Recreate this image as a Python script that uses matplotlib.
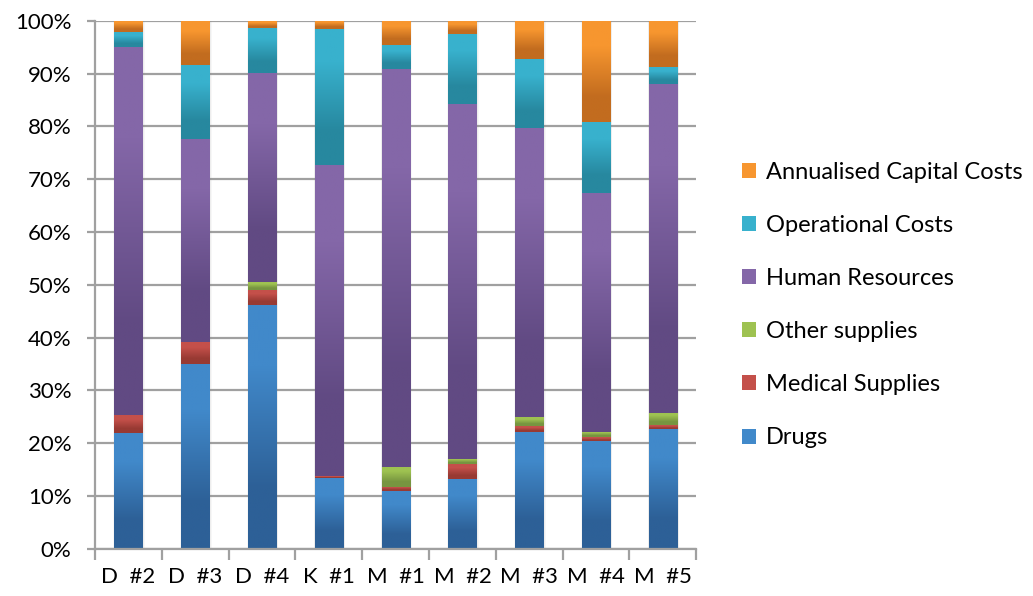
import numpy as np
import matplotlib
matplotlib.use("Agg")
import matplotlib.pyplot as plt
from matplotlib.colors import to_rgb
from matplotlib.patches import Patch

plt.rcParams["font.family"] = ["Lato", "DejaVu Sans"]

categories = ["D  #2", "D  #3", "D  #4", "K  #1", "M  #1", "M  #2", "M  #3", "M  #4", "M  #5"]

# shares in percent
drugs       = [21.9, 35.0, 46.2, 13.5, 11.0, 13.3, 22.2, 20.5, 22.8]
medical     = [3.4, 4.1, 2.8, 0.3, 0.8, 2.7, 1.0, 0.6, 0.7]
other       = [0.0, 0.0, 1.5, 0.0, 3.8, 1.1, 1.7, 1.0, 2.3]
human_res   = [69.8, 38.5, 39.6, 58.9, 75.3, 67.2, 54.9, 45.3, 62.3]
operational = [2.8, 14.0, 8.6, 25.8, 4.5, 13.3, 12.9, 13.5, 3.2]
capital     = [2.1, 8.4, 1.3, 1.6, 4.6, 2.4, 7.3, 19.1, 8.7]

series = [
    ("Drugs", drugs, "#4189ca", "#2d6097"),
    ("Medical Supplies", medical, "#c4504a", "#983a33"),
    ("Other supplies", other, "#9ec251", "#779540"),
    ("Human Resources", human_res, "#8467a8", "#614a83"),
    ("Operational Costs", operational, "#38b1cd", "#27889f"),
    ("Annualised Capital Costs", capital, "#f7962f", "#c26c1f"),
]

vals = np.array([s[1] for s in series], dtype=float)
pct = vals / vals.sum(axis=0) * 100

fig = plt.figure(figsize=(10.33, 5.96), dpi=100)
ax = fig.add_axes([0.092, 0.079, 0.582, 0.886])

x = np.arange(len(categories))
w = 0.42
grid_c = "#a0a0a0"

ax.set_yticks(np.arange(0, 101, 10))
ax.set_yticklabels([f"{v}%" for v in range(0, 101, 10)], fontsize=16)
ax.yaxis.grid(True, color=grid_c, lw=1.6, zorder=0)
ax.set_axisbelow(True)

# soft shadow behind bars
for xi in x:
    for k, a in [(0.05, 0.06), (0.03, 0.08)]:
        ax.bar(xi + 0.01, 100, width=w + k, color="#808080", alpha=a, lw=0, zorder=1)

bottom = np.zeros(len(categories))
for (name, _, top_c, bot_c), p in zip(series, pct):
    grad = np.array([[to_rgb(top_c)], [to_rgb(bot_c)]])
    for xi, b, h in zip(x, bottom, p):
        if h <= 0:
            continue
        ax.imshow(grad, extent=(xi - w / 2, xi + w / 2, b, b + h), aspect="auto",
                  interpolation="bilinear", origin="upper", zorder=2)
    bottom += p
ax.set_xlim(-0.5, len(categories) - 0.5)
ax.set_ylim(0, 100)

ax.set_xticks(x)
ax.set_xticklabels(categories, fontsize=16)
ax.tick_params(axis="x", which="major", length=0, pad=13)
ax.set_xticks(np.arange(-0.5, len(categories), 1), minor=True)
ax.tick_params(axis="x", which="minor", length=8, color=grid_c, width=1.6)
ax.tick_params(axis="y", length=6, color=grid_c, width=1.6, pad=11)

for s in ["top", "right"]:
    ax.spines[s].set_visible(False)
for s in ["left", "bottom"]:
    ax.spines[s].set_color(grid_c)
    ax.spines[s].set_linewidth(1.6)

handles = [Patch(facecolor=s[2], edgecolor="none") for s in series][::-1]
labels = [s[0] for s in series][::-1]
fig.legend(handles, labels, loc="center left", bbox_to_anchor=(0.698, 0.488),
           frameon=False, fontsize=17, handlelength=0.6, handleheight=0.6,
           handletextpad=0.42, labelspacing=1.36)

fig.savefig("out.png", dpi=100)
